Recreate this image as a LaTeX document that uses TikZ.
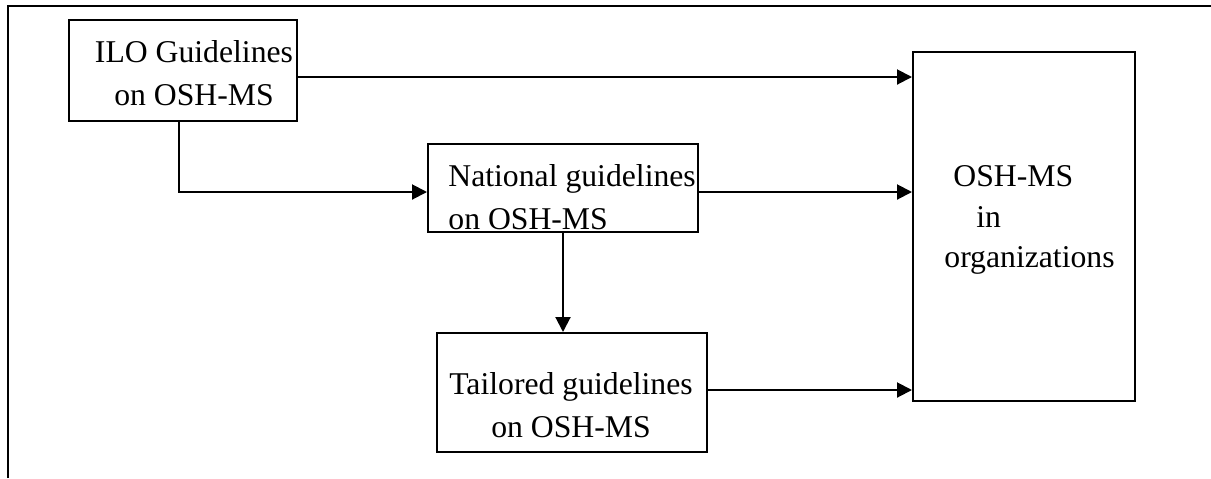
\documentclass[tikz,border=0pt]{standalone}
\usepackage{fontspec}
\setmainfont{Liberation Serif}
\usetikzlibrary{arrows.meta}

\begin{document}
\begin{tikzpicture}[
    x=0.5pt, y=-0.5pt,
    box/.style={draw, line width=1pt, inner sep=0pt},
    txt/.style={inner sep=0pt, font=\fontsize{15.85}{21.5}\selectfont},
    arrow/.style={line width=1pt, -{Triangle[length=7.5pt, width=7.5pt]}}
]
\useasboundingbox (0,0) rectangle (1211,478);

% Frame
\draw[line width=1.2pt] (8,478) -- (8,6) -- (1211,6);

% Boxes
\node[box, minimum width=114pt, minimum height=50.5pt] (ilo) at (183,70.5) {};
\node[box, minimum width=135pt, minimum height=44pt] (nat) at (563,188) {};
\node[box, minimum width=135pt, minimum height=59.5pt] (tail) at (572,392.5) {};
\node[box, minimum width=111pt, minimum height=174.5pt] (osh) at (1024,226.5) {};

% Texts
\node[txt, align=center] (ilotext) at (194,73) {ILO Guidelines\\on OSH-MS};
\node[txt, align=left, anchor=west] (nattext) at (448,197) {National guidelines\\on OSH-MS};
\node[txt, align=center] (tailtext) at (571,405.5) {Tailored guidelines\\on OSH-MS};
\node[txt, align=left, anchor=west, font=\fontsize{15.85}{20.3}\selectfont] (oshtext) at (944,220)
    {\hspace*{4.5pt}OSH-MS\\\hspace*{16pt}in\\organizations};

% Connectors
\draw[arrow] ([yshift=-3.25pt]ilo.east) -- ([yshift=-3.25pt]ilo.east -| osh.west);
\draw[arrow] ([xshift=-2pt]ilo.south) |- ([yshift=-2pt]nat.west);
\draw[arrow] ([yshift=-2pt]nat.east) -- ([yshift=-2pt]nat.east -| osh.west);
\draw[arrow] (nat.south) -- (nat.south |- tail.north);
\draw[arrow] ([yshift=1.25pt]tail.east) -- ([yshift=1.25pt]tail.east -| osh.west);

\end{tikzpicture}
\end{document}
